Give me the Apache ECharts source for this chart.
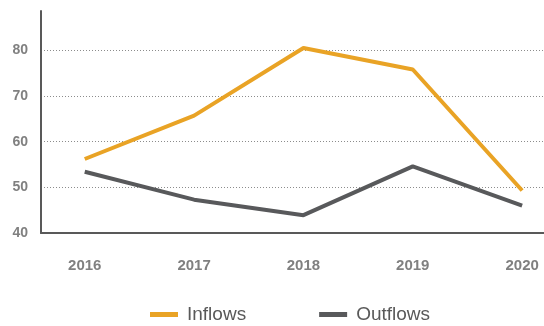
<!DOCTYPE html>
<html>
<head>
<meta charset="utf-8">
<script src="https://cdn.jsdelivr.net/npm/echarts@6/dist/echarts.min.js"></script>
<style>
  html, body { margin: 0; padding: 0; background: #ffffff; }
  #chart { width: 544px; height: 326px; }
</style>
</head>
<body>
<div id="chart"></div>
<script>
// Annual flows, 2016–2020
const years = [2016, 2017, 2018, 2019, 2020];
const inflows = [56.2, 65.7, 80.5, 75.8, 49.3];
const outflows = [53.4, 47.3, 43.9, 54.6, 46.0];
const seriesNames = ['Inflows', 'Outflows'];

const FONT = '"Liberation Sans", Arial, sans-serif';

const chart = echarts.init(document.getElementById('chart'), null, { renderer: 'canvas' });

function pairs(values) {
  return years.map((y, i) => [y, values[i]]);
}

chart.setOption({
  animation: false,
  backgroundColor: '#ffffff',
  grid: { left: 41, right: 0, top: 11, bottom: 93, containLabel: false },
  legend: {
    top: 305,
    left: 150,
    padding: 0,
    itemWidth: 28,
    itemHeight: 5,
    itemGap: 73,
    icon: 'rect',
    textStyle: { fontFamily: FONT, fontSize: 19, color: '#595959', padding: [0, 0, 0, 4] },
    data: seriesNames
  },
  xAxis: {
    type: 'value',
    min: 2015.6,
    max: 2020.2,
    interval: 0.2,
    axisLine: { show: true, lineStyle: { color: '#595959', width: 2 } },
    axisTick: { show: false },
    splitLine: { show: false },
    axisLabel: {
      margin: 25,
      fontFamily: FONT,
      fontWeight: 'bold',
      fontSize: 15,
      color: '#808080',
      showMinLabel: false,
      showMaxLabel: false,
      formatter: v => (Math.abs(v - Math.round(v)) < 1e-6 ? String(Math.round(v)) : '')
    }
  },
  yAxis: {
    type: 'value',
    min: 40,
    max: 88.6,
    interval: 10,
    axisLine: { show: true, lineStyle: { color: '#595959', width: 2 } },
    axisTick: { show: false },
    axisLabel: {
      margin: 13,
      fontFamily: FONT,
      fontWeight: 'bold',
      fontSize: 14,
      color: '#808080',
      showMaxLabel: false
    },
    splitLine: {
      show: true,
      showMinLine: false,
      showMaxLine: false,
      lineStyle: { color: '#8c8c8c', type: [1, 2], width: 1 }
    }
  },
  series: [
    {
      name: seriesNames[0],
      type: 'line',
      data: pairs(inflows),
      symbol: 'none',
      color: '#E9A325',
      lineStyle: { width: 4, color: '#E9A325' }
    },
    {
      name: seriesNames[1],
      type: 'line',
      data: pairs(outflows),
      symbol: 'none',
      color: '#58595B',
      lineStyle: { width: 4, color: '#58595B' }
    }
  ]
});
</script>
</body>
</html>
